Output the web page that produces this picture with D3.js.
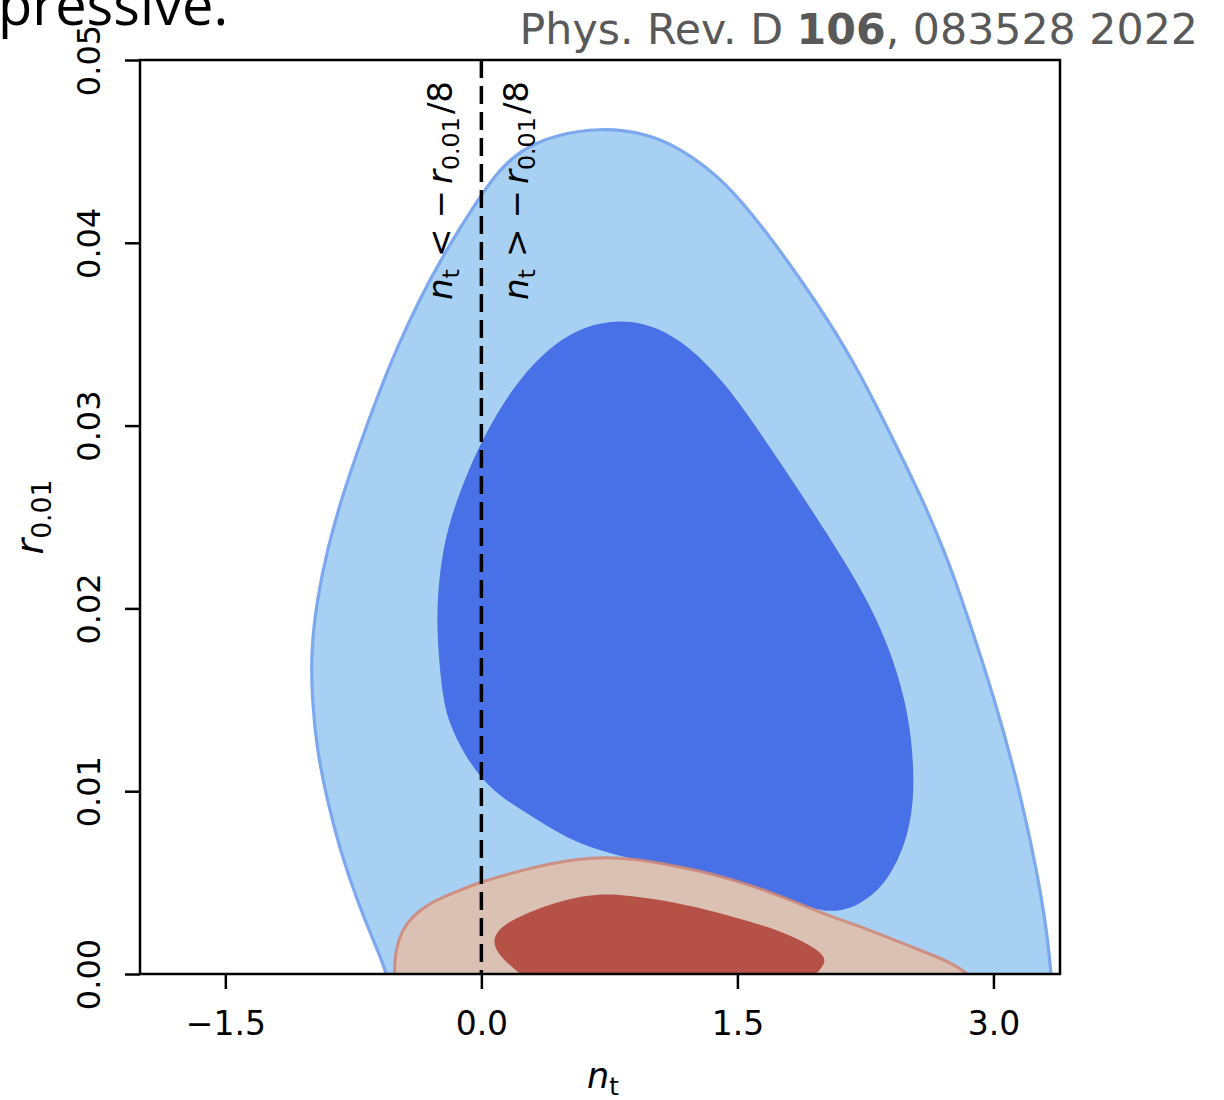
<!DOCTYPE html>
<html><head><meta charset="utf-8">
<script src="https://cdn.jsdelivr.net/npm/d3@7"></script>
<style>body{margin:0;background:#fff}</style>
</head><body>
<svg id="chart" width="1224" height="1100"></svg>
<script>
// ---------- data ----------
const xTicks = [-1.5, 0.0, 1.5, 3.0];
const xTickLabels = ["\u22121.5", "0.0", "1.5", "3.0"];
const yTicks = [0.00, 0.01, 0.02, 0.03, 0.04, 0.05];
const yTickLabels = ["0.00", "0.01", "0.02", "0.03", "0.04", "0.05"];
const xDomain = [-2.0, 3.39];
const yDomain = [0, 0.05];
const boundaryNt = 0.0;

// contours as [n_t, r_0.01] pairs
const blueOuter95 = [[-0.45,-0.004],[-0.547,0],[-0.635,0.00186],[-0.729,0.00405],[-0.828,0.00678],[-0.904,0.00952],[-0.963,0.01225],[-0.992,0.01499],[-0.998,0.01772],[-0.963,0.02046],[-0.904,0.02319],[-0.822,0.02593],[-0.723,0.02866],[-0.617,0.03140],[-0.500,0.03414],[-0.365,0.03687],[-0.207,0.03961],[-0.020,0.04234],[0.080,0.04371],[0.226,0.04508],[0.431,0.04590],[0.695,0.04630],[0.959,0.04601],[1.164,0.04519],[1.427,0.04344],[1.720,0.03999],[1.955,0.03687],[2.177,0.03359],[2.371,0.03003],[2.587,0.02593],[2.722,0.02292],[2.833,0.02002],[3.009,0.01499],[3.156,0.01001],[3.290,0.00405],[3.343,0],[3.36,-0.004]];
const blueInner68 = [[0.812,0.03580],[1.000,0.03550],[1.164,0.03468],[1.310,0.03348],[1.445,0.03206],[1.574,0.03042],[1.773,0.02768],[1.966,0.02495],[2.130,0.02254],[2.277,0.02019],[2.394,0.01772],[2.476,0.01526],[2.523,0.01280],[2.537,0.01007],[2.511,0.00815],[2.464,0.00667],[2.365,0.00487],[2.218,0.00377],[2.060,0.00330],[1.867,0.00377],[1.750,0.00421],[1.457,0.00514],[1.164,0.00580],[0.871,0.00629],[0.619,0.00695],[0.461,0.00766],[0.302,0.00859],[0.138,0.00952],[0.004,0.01061],[-0.108,0.01214],[-0.184,0.01362],[-0.225,0.01499],[-0.254,0.01772],[-0.262,0.02002],[-0.237,0.02265],[-0.184,0.02484],[-0.096,0.02713],[0.004,0.02921],[0.127,0.03124],[0.267,0.03304],[0.431,0.03452],[0.607,0.03545]];
const redOuter95 = [[-0.49,-0.003],[-0.514,0],[-0.503,0.0012],[-0.472,0.0023],[-0.40,0.0032],[-0.30,0.0039],[-0.15,0.0045],[0.0,0.00505],[0.17,0.0055],[0.334,0.0059],[0.50,0.0062],[0.680,0.0064],[0.908,0.0063],[1.08,0.0060],[1.260,0.0057],[1.50,0.0051],[1.717,0.0044],[1.90,0.0037],[2.062,0.0031],[2.25,0.0025],[2.408,0.0019],[2.60,0.0012],[2.754,0.0006],[2.865,0],[3.0,-0.002]];
const redInner68 = [[0.34,-0.0008],[0.20,0.0002],[0.105,0.0010],[0.06,0.0018],[0.115,0.0027],[0.334,0.0036],[0.50,0.0041],[0.691,0.0044],[0.85,0.0043],[1.025,0.0041],[1.25,0.0037],[1.488,0.0031],[1.746,0.0024],[1.925,0.0016],[2.03,0.0009],[1.99,0.0002],[1.86,-0.0008]];

// ---------- layout ----------
const svg = d3.select("#chart");
const L = 140, R = 1060, T = 60, B = 974;
const x = d3.scaleLinear().domain(xDomain).range([L, R]);
const y = d3.scaleLinear().domain(yDomain).range([B, T]);

svg.append("defs").append("clipPath").attr("id","plotclip")
  .append("rect").attr("x",L).attr("y",T).attr("width",R-L).attr("height",B-T);

const g = svg.append("g").attr("clip-path","url(#plotclip)");
const closed = d3.line().x(d=>x(d[0])).y(d=>y(d[1])).curve(d3.curveBasisClosed);

g.append("path").attr("d", closed(blueOuter95))
  .attr("fill","#a7d0f2").attr("stroke","#7ba8ee").attr("stroke-width",3.2);
g.append("path").attr("d", closed(blueInner68))
  .attr("fill","#4871e8");
g.append("path").attr("d", closed(redOuter95))
  .attr("fill","#e8bba4").attr("fill-opacity",0.8)
  .attr("stroke","#cf8676").attr("stroke-width",3).attr("stroke-opacity",0.85);
g.append("path").attr("d", closed(redInner68))
  .attr("fill","#b55146");

// dashed boundary
g.append("line").attr("x1",x(boundaryNt)).attr("x2",x(boundaryNt))
  .attr("y1",T).attr("y2",B)
  .attr("stroke","#000").attr("stroke-width",3.5).attr("stroke-dasharray","18,8");

// annotations
const fam = "'DejaVu Sans', sans-serif";
function mathLabel(sel, fs, parts) {
  parts.forEach(p => {
    const t = sel.append("tspan").text(p.t);
    if (p.i) t.attr("font-style","italic");
    if (p.sub) { t.attr("font-size", fs*0.7).attr("dy", fs*0.2); }
    if (p.up) { t.attr("dy", -fs*0.2); }
    if (p.dx) { t.attr("dx", p.dx); }
  });
}
function annot(px, py, rel) {
  const t = svg.append("text")
    .attr("transform", `translate(${px},${py}) rotate(-90)`)
    .attr("font-family", fam).attr("font-size", 34).attr("fill","#000");
  mathLabel(t, 34, [{t:"n",i:true},{t:"t",sub:true},{t:rel,up:true,dx:12},{t:"\u2212",dx:10},{t:"r",i:true,dx:6},{t:"0.01",sub:true},{t:"/8",up:true,dx:3}]);
}
annot(x(0)-29, 300, "<");
annot(x(0)+47, 300, ">");

// axes
const xAxis = svg.append("g").attr("transform",`translate(0,${B})`)
  .call(d3.axisBottom(x).tickValues(xTicks).tickSize(15).tickPadding(23)
    .tickFormat((d,i)=>xTickLabels[i]));
xAxis.select(".domain").remove();
xAxis.selectAll("line").attr("stroke-width",2.5);
xAxis.selectAll("text").attr("font-family",fam).attr("font-size",33).attr("fill","#000");

const yAxis = svg.append("g").attr("transform",`translate(${L},0)`)
  .call(d3.axisLeft(y).tickValues(yTicks).tickSize(15).tickFormat((d,i)=>yTickLabels[i]));
yAxis.select(".domain").remove();
yAxis.selectAll("line").attr("stroke-width",2.5);
yAxis.selectAll("text").attr("font-family",fam).attr("font-size",32).attr("fill","#000")
  .attr("x",0).attr("dy",null).attr("y",0).attr("text-anchor","middle")
  .attr("transform","translate(-40,0) rotate(-90)");

// frame
svg.append("rect").attr("x",L).attr("y",T).attr("width",R-L).attr("height",B-T)
  .attr("fill","none").attr("stroke","#000").attr("stroke-width",2.5);

// axis labels
const xl = svg.append("text").attr("x",603).attr("y",1088)
  .attr("text-anchor","middle").attr("font-family",fam).attr("font-size",35);
mathLabel(xl, 35, [{t:"n",i:true},{t:"t",sub:true}]);
const yl = svg.append("text").attr("transform","translate(43,517) rotate(-90)")
  .attr("text-anchor","middle").attr("font-family",fam).attr("font-size",38);
mathLabel(yl, 38, [{t:"r",i:true},{t:"0.01",sub:true}]);

// header texts
svg.append("text").attr("x",-2).attr("y",25).attr("font-family","'Open Sans', sans-serif")
  .attr("font-size",56).attr("fill","#000").text("pressive.");
const ref = svg.append("text").attr("x",1198).attr("y",44).attr("text-anchor","end")
  .attr("font-family",fam).attr("font-size",42.7).attr("fill","#595959");
ref.append("tspan").text("Phys. Rev. D ");
ref.append("tspan").attr("font-weight","bold").text("106");
ref.append("tspan").text(", 083528 2022");
</script>
</body></html>
